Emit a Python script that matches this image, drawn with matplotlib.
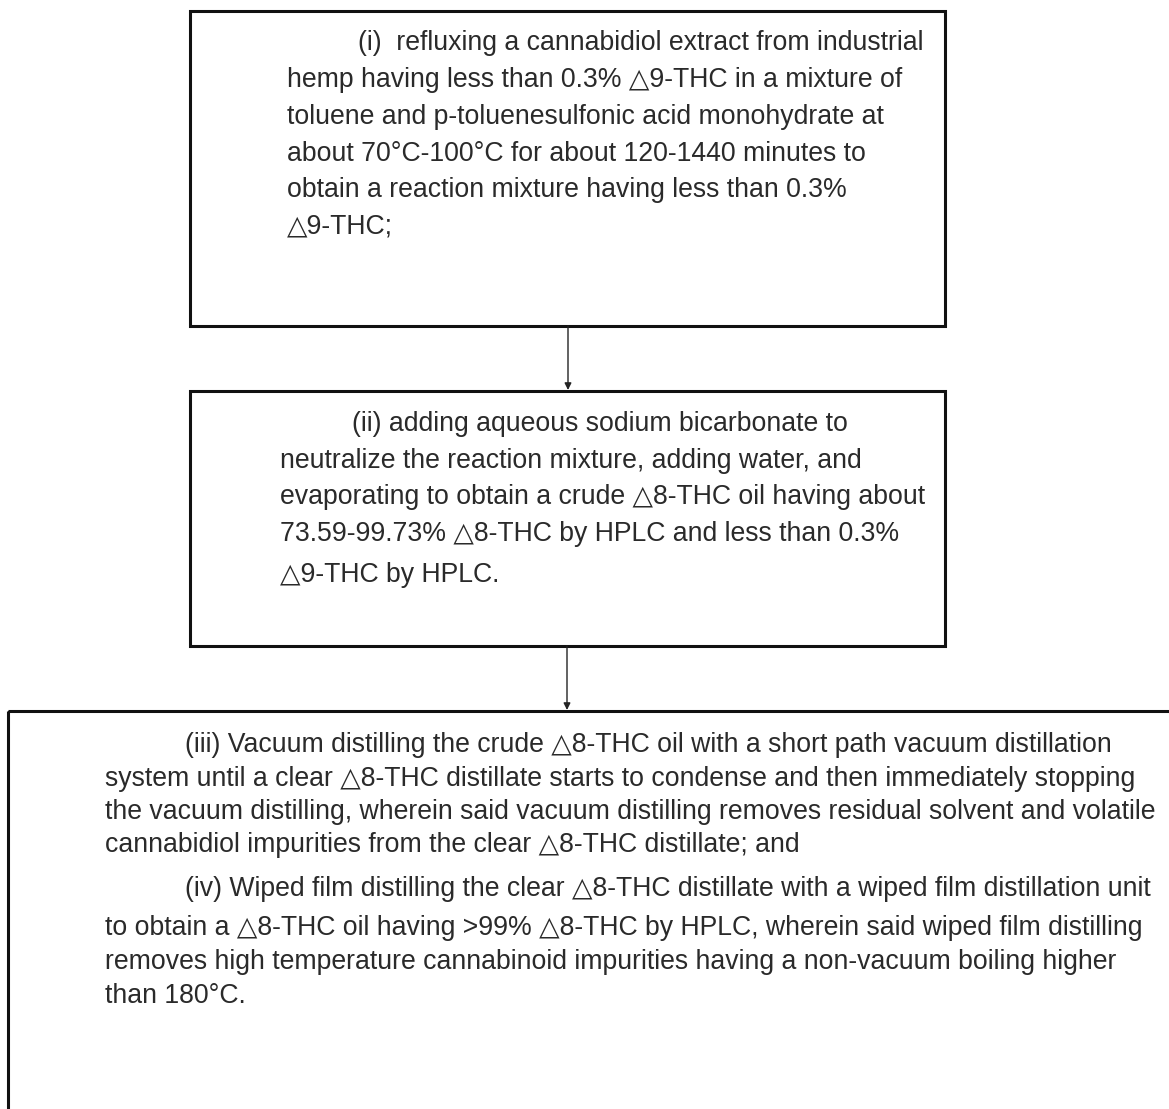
import matplotlib
matplotlib.use("Agg")
import matplotlib.pyplot as plt
from matplotlib.patches import Rectangle

W, H = 1169, 1109

# ---- content ----
box1_lines = [
    "(i)  refluxing a cannabidiol extract from industrial",
    "hemp having less than 0.3% \u25b39-THC in a mixture of",
    "toluene and p-toluenesulfonic acid monohydrate at",
    "about 70\u00b0C-100\u00b0C for about 120-1440 minutes to",
    "obtain a reaction mixture having less than 0.3%",
    "\u25b39-THC;",
]
box2_lines = [
    "(ii) adding aqueous sodium bicarbonate to",
    "neutralize the reaction mixture, adding water, and",
    "evaporating to obtain a crude \u25b38-THC oil having about",
    "73.59-99.73% \u25b38-THC by HPLC and less than 0.3%",
    "\u25b39-THC by HPLC.",
]
box3_lines = [
    "(iii) Vacuum distilling the crude \u25b38-THC oil with a short path vacuum distillation",
    "system until a clear \u25b38-THC distillate starts to condense and then immediately stopping",
    "the vacuum distilling, wherein said vacuum distilling removes residual solvent and volatile",
    "cannabidiol impurities from the clear \u25b38-THC distillate; and",
    "(iv) Wiped film distilling the clear \u25b38-THC distillate with a wiped film distillation unit",
    "to obtain a \u25b38-THC oil having >99% \u25b38-THC by HPLC, wherein said wiped film distilling",
    "removes high temperature cannabinoid impurities having a non-vacuum boiling higher",
    "than 180\u00b0C.",
]

# layout (pixel coordinates, y downwards)
boxes = [(190, 11, 945, 326), (190, 391, 945, 646), (8, 711, 1180, 1125)]
box1_y = [43, 80, 117, 154, 190, 226]
box1_x = [358, 287, 287, 287, 287, 287]
box2_y = [424, 461, 497, 534, 575]
box2_x = [352, 280, 280, 280, 280]
box3_y = [745, 779, 812, 845, 889, 928, 962, 996]
box3_x = [185, 105, 105, 105, 185, 105, 105, 105]
arrows = [(568, 326, 391), (567, 646, 711)]

fig = plt.figure(figsize=(W / 100, H / 100), dpi=100)
ax = fig.add_axes([0, 0, 1, 1])
ax.set_xlim(0, W)
ax.set_ylim(H, 0)
ax.axis("off")

for (x0, y0, x1, y1) in boxes:
    ax.add_patch(Rectangle((x0, y0), x1 - x0, y1 - y0, fill=False,
                           edgecolor="#111111", linewidth=2.2))

for (x, ya, yb) in arrows:
    ax.annotate("", xy=(x, yb - 1), xytext=(x, ya),
                arrowprops=dict(arrowstyle="-|>", color="#222222", lw=1.0,
                                mutation_scale=10, shrinkA=0, shrinkB=0))

FS = 19.2
tc = "#2a2a2a"
fam = ["Liberation Sans", "DejaVu Sans"]
for lines, xs, ys in [(box1_lines, box1_x, box1_y),
                      (box2_lines, box2_x, box2_y),
                      (box3_lines, box3_x, box3_y)]:
    for t, x, y in zip(lines, xs, ys):
        ax.text(x, y, t, ha="left", va="center", fontsize=FS, color=tc,
                family=fam)

fig.savefig("out.png", dpi=100)
